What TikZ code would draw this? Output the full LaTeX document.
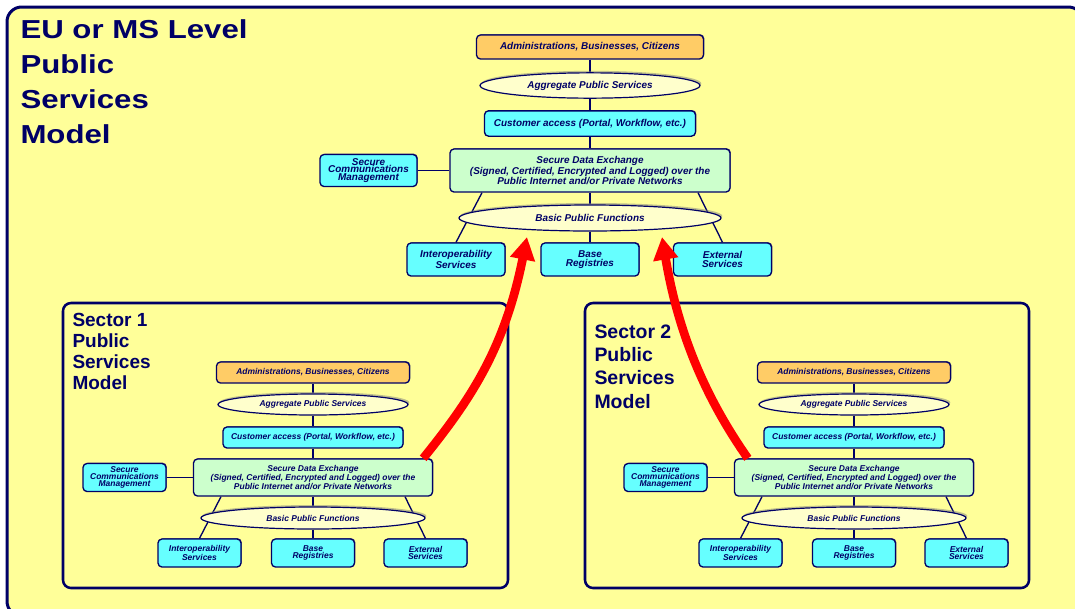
\documentclass[tikz,border=0pt]{standalone}
\usepackage{fontspec}
\setmainfont{Liberation Sans}
\newfontfamily\titlefont{Liberation Sans}[FakeStretch=1.2]
\usetikzlibrary{arrows.meta,shapes.geometric,shadows,backgrounds}

\definecolor{navyblue}{RGB}{0,0,102}
\definecolor{bgyellow}{RGB}{255,255,153}
\definecolor{usrorange}{RGB}{255,204,102}
\definecolor{acccyan}{RGB}{102,255,255}
\definecolor{sdegreen}{RGB}{204,255,204}
\definecolor{ovalyellow}{RGB}{255,255,204}

\tikzset{every picture/.style={line width=0.75pt}}

\begin{document}
\begin{tikzpicture}[x=0.75pt,y=0.75pt,yscale=-1,xscale=1,
  box/.style={draw=navyblue, line width=1pt, rounded corners=3pt, align=center, inner sep=0pt, text=navyblue,
    drop shadow={shadow xshift=0.6pt, shadow yshift=0.6pt, fill=navyblue, opacity=0.6}},
  usr/.style={box, fill=usrorange},
  acc/.style={box, fill=acccyan},
  sdx/.style={box, fill=sdegreen},
  oval/.style={ellipse, draw=navyblue, line width=0.9pt, fill=ovalyellow, inner sep=0pt, text=navyblue,
    drop shadow={shadow xshift=1pt, shadow yshift=1.5pt, fill=black!50}},
  big/.style={font=\fontsize{7.45}{#1}\selectfont\bfseries\itshape},
  big/.default=6.75,
  small/.style={font=\fontsize{6.35}{#1}\selectfont\bfseries\itshape},
  small/.default=5.7,
  link/.style={draw=navyblue, line width=1pt},
  frame/.style={draw=navyblue, line width=1.9pt, rounded corners=6pt},
  heading/.style={anchor=north west, inner sep=0pt, align=left, text=navyblue},
  flow/.style={draw=red, line width=6.5pt, -{Triangle[length=17pt,width=18pt]}}
]
\useasboundingbox (0,0) rectangle (1075,608);

%Title Nodes
\node[heading, font=\titlefont\bfseries\fontsize{19.5}{26.25}\selectfont] (ttl) at (20,19) {EU or MS Level\\Public\\Services\\Model};
\node[heading, font=\bfseries\fontsize{14.25}{15.75}\selectfont] (ttl1) at (72,313) {Sector 1\\Public\\Services\\Model};
\node[heading, font=\bfseries\fontsize{14.6}{17.5}\selectfont] (ttl2) at (594,324) {Sector 2\\Public\\Services\\Model};

%EU or MS level model
\node[usr, big, minimum width=170.25pt, minimum height=18pt] (adm) at (590,47) {Administrations, Businesses, Citizens};
\node[oval, big, minimum width=165pt, minimum height=19pt] (agg) at (590,85.5) {Aggregate Public Services};
\node[acc, big, minimum width=158.25pt, minimum height=19pt] (cus) at (590,123.5) {Customer access (Portal, Workflow, etc.)};
\node[sdx, big=7.9, minimum width=210pt, minimum height=32.25pt] (sde) at (590,170.5) {Secure Data Exchange\\(Signed, Certified, Encrypted and Logged) over the\\Public Internet and/or Private Networks};
\node[acc, big=5.85, minimum width=72.75pt, minimum height=24pt] (scm) at (368.5,170.5) {Secure\\Communications\\Management};
\node[oval, big, minimum width=196.5pt, minimum height=19.5pt] (bpf) at (590,218) {Basic Public Functions};
\node[acc, big, minimum width=73.5pt, minimum height=24.75pt] (iop) at (456,259.5) {Interoperability\\Services};
\node[acc, big, minimum width=73.5pt, minimum height=24.75pt] (reg) at (590,259.5) {Base\\Registries};
\node[acc, big, minimum width=73.5pt, minimum height=24.75pt] (ext) at (722.5,259.5) {External\\Services};

%Sector 1 model
\node[usr, small, minimum width=144.75pt, minimum height=15.75pt] (adm1) at (313,372.5) {Administrations, Businesses, Citizens};
\node[oval, small, minimum width=142.5pt, minimum height=15.75pt] (agg1) at (313,404.5) {Aggregate Public Services};
\node[acc, small, minimum width=135pt, minimum height=15.75pt] (cus1) at (313,437.5) {Customer access (Portal, Workflow, etc.)};
\node[sdx, small=6.75, minimum width=179.25pt, minimum height=27.75pt] (sde1) at (313,477.5) {Secure Data Exchange\\(Signed, Certified, Encrypted and Logged) over the\\Public Internet and/or Private Networks};
\node[acc, small=5.2, minimum width=62.25pt, minimum height=21pt] (scm1) at (124.5,477.5) {Secure\\Communications\\Management};
\node[oval, small, minimum width=168pt, minimum height=16.5pt] (bpf1) at (313,518) {Basic Public Functions};
\node[acc, small, minimum width=62.25pt, minimum height=21pt] (iop1) at (199.5,553) {Interoperability\\Services};
\node[acc, small, minimum width=62.25pt, minimum height=21pt] (reg1) at (313,553) {Base\\Registries};
\node[acc, small, minimum width=62.25pt, minimum height=21pt] (ext1) at (425.5,553) {External\\Services};

%Sector 2 model
\node[usr, small, minimum width=144.75pt, minimum height=15.75pt] (adm2) at (854,372.5) {Administrations, Businesses, Citizens};
\node[oval, small, minimum width=142.5pt, minimum height=15.75pt] (agg2) at (854,404.5) {Aggregate Public Services};
\node[acc, small, minimum width=135pt, minimum height=15.75pt] (cus2) at (854,437.5) {Customer access (Portal, Workflow, etc.)};
\node[sdx, small=6.75, minimum width=179.25pt, minimum height=27.75pt] (sde2) at (854,477.5) {Secure Data Exchange\\(Signed, Certified, Encrypted and Logged) over the\\Public Internet and/or Private Networks};
\node[acc, small=5.2, minimum width=62.25pt, minimum height=21pt] (scm2) at (665.5,477.5) {Secure\\Communications\\Management};
\node[oval, small, minimum width=168pt, minimum height=16.5pt] (bpf2) at (854,518) {Basic Public Functions};
\node[acc, small, minimum width=62.25pt, minimum height=21pt] (iop2) at (740.5,553) {Interoperability\\Services};
\node[acc, small, minimum width=62.25pt, minimum height=21pt] (reg2) at (854,553) {Base\\Registries};
\node[acc, small, minimum width=62.25pt, minimum height=21pt] (ext2) at (966.5,553) {External\\Services};

\begin{pgfonlayer}{background}
%Shape: Rounded Rectangle
\draw[draw=navyblue, line width=2.25pt, fill=bgyellow, rounded corners=11pt] (7,7) rectangle (1083,616);
%Shape: Rounded Rectangle
\draw[frame] (63,303) rectangle (508,588);
%Shape: Rounded Rectangle
\draw[frame] (585,303) rectangle (1029,588);

%Straight Lines
\draw[link] (adm) -- (agg);
\draw[link] (agg) -- (cus);
\draw[link] (cus) -- (sde);
\draw[link] (scm) -- (sde);
\draw[link] (sde) -- (bpf);
\draw[link] (bpf) -- (reg);
\draw[link] ([xshift=-81pt]sde.south) -- (iop.north);
\draw[link] ([xshift=81pt]sde.south) -- (ext.north);
%Straight Lines
\draw[link] (adm1) -- (agg1);
\draw[link] (agg1) -- (cus1);
\draw[link] (cus1) -- (sde1);
\draw[link] (scm1) -- (sde1);
\draw[link] (sde1) -- (bpf1);
\draw[link] (bpf1) -- (reg1);
\draw[link] ([xshift=-69pt]sde1.south) -- (iop1.north);
\draw[link] ([xshift=69pt]sde1.south) -- (ext1.north);
%Straight Lines
\draw[link] (adm2) -- (agg2);
\draw[link] (agg2) -- (cus2);
\draw[link] (cus2) -- (sde2);
\draw[link] (scm2) -- (sde2);
\draw[link] (sde2) -- (bpf2);
\draw[link] (bpf2) -- (reg2);
\draw[link] ([xshift=-69pt]sde2.south) -- (iop2.north);
\draw[link] ([xshift=69pt]sde2.south) -- (ext2.north);
\end{pgfonlayer}

%Curve Lines
\coordinate (tip1) at (527,237);
\coordinate (tip2) at (662,237);
\draw[flow] ([xshift=-7.5pt]sde1.north east) .. controls (472,398) and (505,347) .. (tip1);
\draw[flow] ([xshift=10.5pt]sde2.north west) .. controls (712,407) and (680,344) .. (tip2);

\end{tikzpicture}
\end{document}
